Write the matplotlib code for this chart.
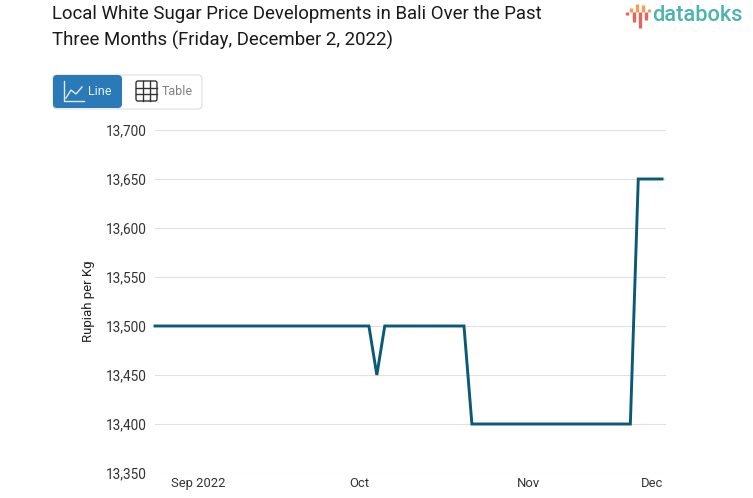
import matplotlib
matplotlib.use("Agg")
import matplotlib.pyplot as plt
from matplotlib.patches import FancyBboxPatch

plt.rcParams['font.family'] = ['Roboto', 'DejaVu Sans']

# index = trading day in the category axis
day_idx = [0, 27, 28, 29, 39, 40, 60, 61, 64]
price = [13500, 13500, 13450, 13500, 13500, 13400, 13400, 13650, 13650]

y_ticks = [13350, 13400, 13450, 13500, 13550, 13600, 13650, 13700]
month_pos = [5.4, 25.75, 47.1, 62.75]
month_labels = ["Sep 2022", "Oct", "Nov", "Dec"]
title_lines = ["Local White Sugar Price Developments in Bali Over the Past",
               "Three Months (Friday, December 2, 2022)"]

# logo bars: x, top, bottom, colour
logo_bars = [(627.5, 12, 15, "#e8635a"), (630.7, 8, 12, "#f0a05a"), (633.7, 12, 22, "#e8635a"),
             (636.8, 4, 12, "#f0a05a"), (639.8, 12, 28, "#e8635a"), (643, 5, 12, "#f0a05a"),
             (646, 12, 20, "#e8635a"), (649, 9, 12, "#f0a05a")]

W, H = 753, 498
fig = plt.figure(figsize=(W / 100, H / 100), dpi=100)

# chart area, gridlines run from x=155 to x=666
ax = fig.add_axes([155 / W, 1 - 473 / H, (666 - 155) / W, (473 - 130) / H])
ax.plot(day_idx, price, color="#0b5a75", lw=2.1, solid_joinstyle="miter", clip_on=False, zorder=3)
ax.set_xlim(0, 64.5)
ax.set_ylim(13350, 13700)
ax.set_yticks(y_ticks)
ax.set_yticklabels([f"{v:,}" for v in y_ticks], fontsize=9.8, color="#333333", va="center_baseline")
ax.set_xticks(month_pos)
ax.set_xticklabels(month_labels, fontsize=9.4, color="#333333")
ax.tick_params(length=0, axis="y", pad=6)
ax.tick_params(length=0, axis="x", pad=3)
ax.grid(axis="y", color="#e0e0e0", lw=0.8)
ax.set_axisbelow(True)
for s in ax.spines.values():
    s.set_visible(False)
ax.set_ylabel("Rupiah per Kg", fontsize=9.5, color="#222222", labelpad=7.5)

# overlay in pixel coordinates for title, buttons and logo
ov = fig.add_axes([0, 0, 1, 1], zorder=5)
ov.set_xlim(0, W)
ov.set_ylim(H, 0)
ov.axis("off")
ov.patch.set_alpha(0)

ov.text(52, 14, title_lines[0], fontsize=13.38, color="#1a1a1a", va="center")
ov.text(52, 40, title_lines[1], fontsize=13.38, color="#1a1a1a", va="center")

ov.add_patch(FancyBboxPatch((53, 75), 149, 34, boxstyle="round,pad=0,rounding_size=4",
                            fc="white", ec="#dddddd", lw=0.8))
ov.add_patch(FancyBboxPatch((53, 75), 69, 33, boxstyle="round,pad=0,rounding_size=4",
                            fc="#2a7ab8", ec="none"))
ov.plot([64, 64, 84], [81, 101, 101], color="#dfeaf3", lw=1)
ov.plot([66, 71, 76, 82], [98, 90, 94, 87], color="#dfeaf3", lw=1)
ov.text(88, 91, "Line", fontsize=9, color="#e8f0f6", va="center")
ov.add_patch(FancyBboxPatch((136, 81), 21, 20, boxstyle="round,pad=0,rounding_size=2",
                            fc="none", ec="#333333", lw=1))
for gx in [143, 150]:
    ov.plot([gx, gx], [81, 101], color="#333333", lw=1)
for gy in [88, 94]:
    ov.plot([136, 157], [gy, gy], color="#333333", lw=1)
ov.text(162, 91, "Table", fontsize=9, color="#808080", va="center")

ov.text(652, 15, "databoks", fontsize=15.7, color="#4db3ad", va="center", fontweight="medium")
for bx, top, bottom, col in logo_bars:
    ov.plot([bx, bx], [top, bottom], color=col, lw=2.4, solid_capstyle="butt")

fig.savefig("out.png", dpi=100)
